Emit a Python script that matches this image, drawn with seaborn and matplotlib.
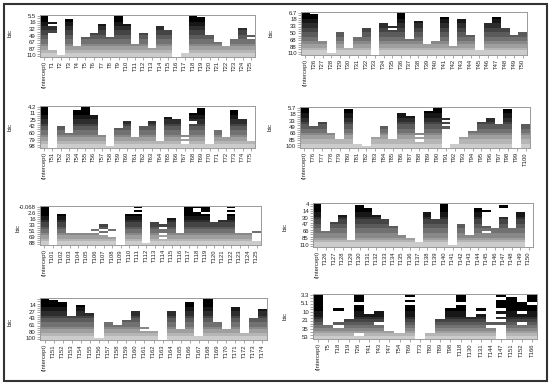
import numpy as np
import matplotlib
matplotlib.use('Agg')
import matplotlib.pyplot as plt
from matplotlib.colors import ListedColormap
from matplotlib.patches import Rectangle
import seaborn as sns

plt.rcParams['font.family'] = ['Liberation Sans', 'DejaVu Sans']

# bien so (ten cot) cua tung o
names1 = ['(Intercept)'] + ['T%d' % i for i in range(1, 26)]
names2 = ['(Intercept)'] + ['T%d' % i for i in range(26, 51)]
names3 = ['(Intercept)'] + ['T%d' % i for i in range(51, 76)]
names4 = ['(Intercept)'] + ['T%d' % i for i in range(76, 101)]
names5 = ['(Intercept)'] + ['T%d' % i for i in range(101, 126)]
names6 = ['(Intercept)'] + ['T%d' % i for i in range(126, 151)]
names7 = ['(Intercept)'] + ['T%d' % i for i in range(151, 175)]
names8 = ['(Intercept)', 'T5', 'T18', 'T19', 'T26', 'T41', 'T43', 'T47', 'T54',
          'T69', 'T73', 'T80', 'T89', 'T98', 'T118', 'T130', 'T131', 'T144',
          'T147', 'T151', 'T152', 'T166']

# gia tri bic cua tung mo hinh (hang, tu tren xuong)
bic1 = [5.5, 9, 12, 16, 21, 27, 32, 38, 43, 49, 55, 61, 67, 74, 80, 87, 95, 102, 110]
bic2 = [6.7, 10, 14, 18, 23, 28, 33, 39, 44, 50, 56, 62, 68, 75, 81, 88, 95, 103, 110]
bic3 = [4.2, 6.5, 8.7, 11, 16, 20, 25, 31, 36, 42, 48, 54, 60, 66, 73, 79, 85, 91, 98]
bic4 = [5.7, 10, 14, 18, 23, 28, 33, 38, 44, 49, 55, 60, 66, 72, 78, 85, 90, 95, 100]
bic5 = [-0.068, 0.8, 1.7, 2.6, 7, 11, 16, 22, 27, 33, 39, 45, 51, 57, 63, 69, 75, 81, 88]
bic6 = [4, 7.3, 11, 14, 19, 25, 30, 36, 41, 47, 53, 60, 66, 72, 78, 85, 93, 101, 110]
bic7 = [5, 8, 11, 14, 18, 23, 27, 32, 38, 43, 49, 55, 61, 67, 74, 80, 86, 93, 100]
bic8 = [3.3, 3.8, 4.4, 5.1, 6.5, 8.2, 10, 13, 17, 21, 25, 30, 35, 41, 47, 53]

# nhan truc y hien thi (R bo bot nhan chong nhau)
ylab1 = ['5.5', '16', '32', '49', '67', '87', '110']
ylab2 = ['6.7', '18', '33', '50', '68', '88', '110']
ylab3 = ['4.2', '11', '25', '42', '60', '79', '98']
ylab4 = ['5.7', '18', '33', '49', '66', '85', '100']
ylab5 = ['-0.068', '2.6', '16', '33', '51', '69', '88']
ylab6 = ['4', '14', '30', '47', '66', '85', '110']
ylab7 = ['14', '27', '43', '61', '80', '100']
ylab8 = ['3.3', '5.1', '10', '21', '35', '53']
ylab_rows1 = [0, 3, 6, 9, 12, 15, 18]
ylab_rows7 = [3, 6, 9, 12, 15, 18]
ylab_rows8 = [0, 3, 6, 9, 12, 15]

# hang dau tien co chua bien (tu do tro xuong), va cac o dao nguoc
top1 = [0, 16, 18, 2, 14, 10, 8, 4, 10, 0, 4, 13, 8, 15, 5, 7, 19, 17, 0, 1, 9, 12, 14, 11, 6, 9]
flip1 = {1: [3, 5, 6, 7], 25: [10]}
top2 = [0, 1, 13, 18, 9, 16, 11, 7, 19, 5, 6, 0, 12, 4, 14, 13, 2, 15, 3, 10, 17, 5, 2, 7, 10, 9]
flip2 = {10: [7]}
top3 = [0, 19, 9, 12, 2, 0, 4, 13, 18, 10, 7, 14, 9, 7, 16, 5, 6, 13, 3, 1, 17, 11, 14, 2, 6, 16]
flip3 = {17: [14, 16], 18: [7]}
top4 = [0, 9, 7, 12, 15, 1, 17, 18, 14, 9, 15, 3, 4, 12, 2, 0, 19, 17, 14, 11, 7, 5, 8, 1, 19, 8]
flip4 = {13: [13, 15], 16: [5, 7, 9]}
top5 = [0, 19, 4, 13, 13, 13, 11, 9, 11, 19, 4, 4, 18, 8, 9, 6, 13, 0, 0, 0, 8, 7, 0, 13, 13, 12]
flip5 = {6: [12], 7: [11, 13], 8: [12, 13, 14], 11: [0, 2], 14: [10, 13, 15],
         18: [1, 2], 19: [3], 22: [1, 3], 25: [13, 14, 15, 16]}
top6 = [0, 12, 8, 5, 16, 1, 2, 5, 7, 10, 14, 15, 17, 4, 7, 0, 18, 9, 14, 2, 10, 11, 6, 11, 4, 19]
flip6 = {20: [3, 12], 22: [1]}
top7 = [0, 1, 2, 8, 3, 7, 18, 11, 12, 10, 6, 13, 15, 19, 6, 14, 2, 17, 0, 11, 14, 4, 16, 9, 5]
flip7 = {11: [14]}
top8 = [0, 11, 10, 9, 0, 7, 6, 13, 14, 4, 16, 14, 9, 5, 0, 8, 5, 10, 0, 1, 3, 0]
flip8 = {2: [5, 11], 4: [3, 14], 6: [10], 9: [0, 2], 14: [3], 16: [6], 17: [11],
         18: [1, 5, 7, 9, 11, 12, 13, 14, 15], 20: [6, 10], 21: [3]}

panels = [
    (names1, bic1, top1, flip1, ylab1, ylab_rows1, (40, 15, 255, 57), (10, 33)),
    (names2, bic2, top2, flip2, ylab2, ylab_rows1, (301, 12, 527, 55), (271, 33)),
    (names3, bic3, top3, flip3, ylab3, ylab_rows1, (40, 106, 255, 148), (10, 127)),
    (names4, bic4, top4, flip4, ylab4, ylab_rows1, (300, 107, 530, 148), (270, 127)),
    (names5, bic5, top5, flip5, ylab5, ylab_rows1, (40, 206, 261, 245), (18, 228)),
    (names6, bic6, top6, flip6, ylab6, ylab_rows1, (313, 203, 533, 247), (285, 227)),
    (names7, bic7, top7, flip7, ylab7, ylab_rows7, (40, 298, 267, 340), (10, 322)),
    (names8, bic8, top8, flip8, ylab8, ylab_rows8, (313, 294, 537, 339), (285, 316)),
]

W, H = 550, 385
fig = plt.figure(figsize=(W / 100, H / 100), dpi=100)
# thang xam kieu leaps (den -> xam nhat)
grays = ListedColormap([str(g) for g in np.linspace(0, 0.8, 10)])

for names, bic, top, flips, ylab, ylab_rows, box, bicpos in panels:
    n_rows, n_cols = len(bic), len(names)
    inc = np.zeros((n_rows, n_cols), dtype=bool)
    for c in range(n_cols):
        inc[top[c]:, c] = True
        for r in flips.get(c, []):
            inc[r, c] = not inc[r, c]
    vals = np.repeat(np.array(bic, dtype=float)[:, None], n_cols, axis=1)

    x0, y0, x1, y1 = box
    ax = fig.add_axes([x0 / W, 1 - y1 / H, (x1 - x0) / W, (y1 - y0) / H])
    ylabels = [''] * n_rows
    for r, t in zip(ylab_rows, ylab):
        ylabels[r] = t
    sns.heatmap(vals, mask=~inc, cmap=grays, vmin=min(bic), vmax=max(bic),
                cbar=False, ax=ax, linewidths=0, xticklabels=names,
                yticklabels=ylabels)
    ax.set_xticklabels(names, rotation=90, fontsize=4.2, color='#222222')
    ax.set_yticklabels(ylabels, rotation=0, fontsize=4.3, color='#222222')
    ax.tick_params(length=2, width=0.4, color='#666666', pad=1)
    for s in ax.spines.values():
        s.set_visible(True)
        s.set_color('#999999')
        s.set_linewidth(0.7)
    fig.text(bicpos[0] / W, 1 - bicpos[1] / H, 'bic', rotation=90, fontsize=4.5,
             color='#222222', ha='center', va='center')

fig.add_artist(Rectangle((4 / W, 4 / H), 543 / W, 377 / H, transform=fig.transFigure,
                         fill=False, edgecolor='#333333', linewidth=1.5))

fig.savefig('out.png', dpi=100)
